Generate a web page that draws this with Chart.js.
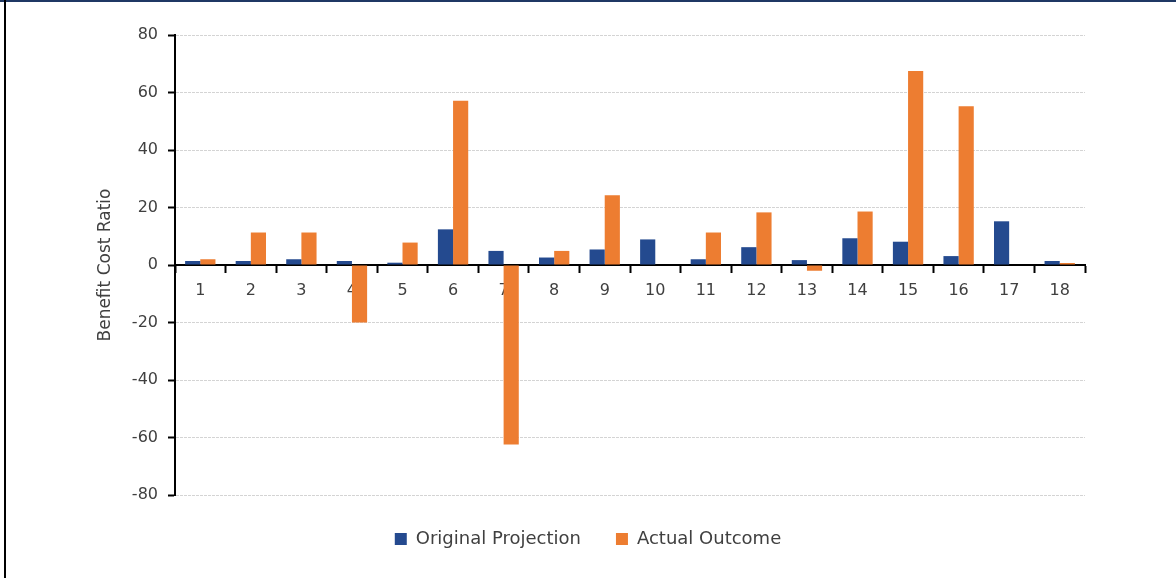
<!DOCTYPE html>
<html>
<head>
<meta charset="utf-8">
<script src="https://cdn.jsdelivr.net/npm/chart.js@4/dist/chart.umd.min.js"></script>
<style>
  html, body { margin: 0; padding: 0; background: #ffffff; }
  #wrap { position: relative; width: 1176px; height: 578px; overflow: hidden; background: #ffffff; }
  #frameTop { position: absolute; left: 0; top: 0; width: 1176px; height: 2px; background: #1f3864; }
  #frameLeft { position: absolute; left: 4px; top: 0; width: 2px; height: 578px; background: #000000; }
  #chart { position: absolute; left: 0; top: 0; }
</style>
</head>
<body>
<div id="wrap">
  <canvas id="chart" width="1176" height="578"></canvas>
  <div id="frameTop"></div>
  <div id="frameLeft"></div>
</div>
<script>
// Project numbers 1-18
const categories = ['1','2','3','4','5','6','7','8','9','10','11','12','13','14','15','16','17','18'];

// Benefit cost ratio originally projected for each project
const originalProjection = [1.4, 1.4, 2.0, 1.4, 0.8, 12.4, 4.9, 2.6, 5.4, 8.9, 2.0, 6.2, 1.7, 9.3, 8.1, 3.1, 15.2, 1.4];

// Benefit cost ratio actually achieved (no bar for projects 10 and 17)
const actualOutcome = [2.0, 11.3, 11.3, -20.0, 7.8, 57.1, -62.4, 4.9, 24.3, null, 11.3, 18.3, -2.0, 18.6, 67.5, 55.2, null, 0.7];

const seriesNames = ['Original Projection', 'Actual Outcome'];
const yTicks = { min: -80, max: 80, step: 20 };

const BLUE = '#244a8f';
const ORANGE = '#ed7d31';
const TEXT = '#404040';
const FONT = 'DejaVu Sans';

new Chart(document.getElementById('chart'), {
  type: 'bar',
  data: {
    labels: categories,
    datasets: [
      { label: seriesNames[0], data: originalProjection, backgroundColor: BLUE },
      { label: seriesNames[1], data: actualOutcome, backgroundColor: ORANGE }
    ]
  },
  options: {
    responsive: false,
    animation: false,
    devicePixelRatio: 1,
    datasets: { bar: { categoryPercentage: 0.6, barPercentage: 1.0 } },
    layout: { padding: { top: 35, right: 0, bottom: 20, left: 0 } },
    plugins: {
      tooltip: { enabled: false },
      legend: {
        position: 'bottom',
        labels: {
          boxWidth: 12,
          boxHeight: 12,
          padding: 35,
          color: TEXT,
          font: { family: FONT, size: 18 }
        }
      }
    },
    scales: {
      x: {
        position: { y: 0 },
        grid: {
          display: true,
          drawOnChartArea: false,
          drawTicks: true,
          tickLength: 7,
          tickWidth: 2,
          color: '#000000',
          offset: true
        },
        border: { display: true, color: '#000000', width: 2 },
        ticks: { color: TEXT, padding: 9, font: { family: FONT, size: 16 }, maxRotation: 0 }
      },
      y: {
        min: yTicks.min,
        max: yTicks.max,
        afterFit: (scale) => { scale.width = 175; },
        ticks: { stepSize: yTicks.step, color: TEXT, padding: 10, font: { family: FONT, size: 16 } },
        grid: {
          color: '#d4d4d4',
          lineWidth: 1,
          tickColor: '#000000',
          tickLength: 7,
          tickWidth: 2
        },
        border: { display: true, color: '#000000', width: 2, dash: [3, 1] },
        title: {
          display: true,
          text: 'Benefit Cost Ratio',
          color: TEXT,
          font: { family: FONT, size: 17 },
          padding: { top: 95, bottom: 0 }
        }
      },
      // empty right-hand margin so the plot ends at the same place while the legend centres on the page
      yRight: {
        position: 'right',
        display: true,
        min: yTicks.min,
        max: yTicks.max,
        afterFit: (scale) => { scale.width = 91; },
        grid: { display: false, drawTicks: false },
        border: { display: false },
        ticks: { display: false }
      }
    }
  }
});
</script>
</body>
</html>
